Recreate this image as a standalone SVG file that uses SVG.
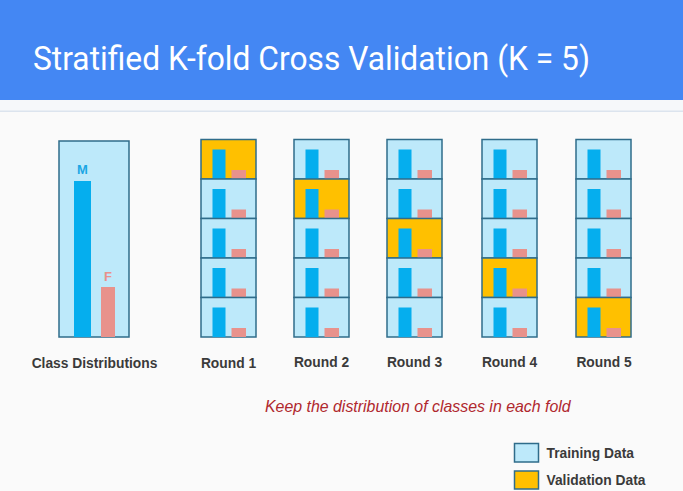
<svg xmlns="http://www.w3.org/2000/svg" width="683" height="491" viewBox="0 0 683 491">
<style>
.cell{fill:#BDE9FA;stroke:#2F6C8A;stroke-width:1.5}
.val{fill:#FFC000;stroke:#2F6C8A;stroke-width:1.5}
.m{fill:#05AEEE}
.f{fill:#E8928C}
.lbl{font-family:"Liberation Sans",Arial,sans-serif;font-weight:bold;font-size:13.8px;fill:#3A3A3A}
</style>
<defs>
<g id="bars">
<rect class="m" x="11.5" y="10" width="13" height="29.5"/>
<rect class="f" x="30.5" y="30.5" width="14.5" height="9"/>
</g>
</defs>
<rect x="0" y="0" width="683" height="491" fill="#FAFAFA"/>
<g id="header">
<rect x="0" y="0" width="683" height="100" fill="#4487F3"/>
<rect x="0" y="100" width="683" height="11" fill="#F6F8FA"/>
<rect x="0" y="110.5" width="683" height="1.5" fill="#DCE4EE"/>
<text x="33" y="70" textLength="557" lengthAdjust="spacingAndGlyphs" font-family="Roboto,'Liberation Sans',sans-serif" font-weight="400" font-size="34" fill="#FFFFFF">Stratified K-fold Cross Validation (K = 5)</text>
</g>
<g id="class-distributions">
<rect class="cell" x="59" y="141" width="70" height="196"/>
<rect class="m" x="74" y="181" width="17" height="156"/>
<rect class="f" x="101" y="287" width="14" height="50"/>
<text x="82.5" y="174" text-anchor="middle" font-family="'Liberation Sans',Arial,sans-serif" font-weight="bold" font-size="13" fill="#1AA6E4">M</text>
<text x="108" y="281" text-anchor="middle" font-family="'Liberation Sans',Arial,sans-serif" font-weight="bold" font-size="13" fill="#E8928C">F</text>
<text class="lbl" x="94.5" y="368" text-anchor="middle">Class Distributions</text>
</g>
<g id="round1">
<g transform="translate(201,139.5)">
<rect class="val" x="0" y="0" width="55" height="39.5"/><use href="#bars" y="0"/>
<rect class="cell" x="0" y="39.5" width="55" height="39.5"/><use href="#bars" y="39.5"/>
<rect class="cell" x="0" y="79" width="55" height="39.5"/><use href="#bars" y="79"/>
<rect class="cell" x="0" y="118.5" width="55" height="39.5"/><use href="#bars" y="118.5"/>
<rect class="cell" x="0" y="158" width="55" height="39.5"/><use href="#bars" y="158"/>
</g>
<text class="lbl" x="228.5" y="368" text-anchor="middle">Round 1</text>
</g>
<g id="round2">
<g transform="translate(294,139.5)">
<rect class="cell" x="0" y="0" width="55" height="39.5"/><use href="#bars" y="0"/>
<rect class="val" x="0" y="39.5" width="55" height="39.5"/><use href="#bars" y="39.5"/>
<rect class="cell" x="0" y="79" width="55" height="39.5"/><use href="#bars" y="79"/>
<rect class="cell" x="0" y="118.5" width="55" height="39.5"/><use href="#bars" y="118.5"/>
<rect class="cell" x="0" y="158" width="55" height="39.5"/><use href="#bars" y="158"/>
</g>
<text class="lbl" x="321.5" y="367" text-anchor="middle">Round 2</text>
</g>
<g id="round3">
<g transform="translate(387,139.5)">
<rect class="cell" x="0" y="0" width="55" height="39.5"/><use href="#bars" y="0"/>
<rect class="cell" x="0" y="39.5" width="55" height="39.5"/><use href="#bars" y="39.5"/>
<rect class="val" x="0" y="79" width="55" height="39.5"/><use href="#bars" y="79"/>
<rect class="cell" x="0" y="118.5" width="55" height="39.5"/><use href="#bars" y="118.5"/>
<rect class="cell" x="0" y="158" width="55" height="39.5"/><use href="#bars" y="158"/>
</g>
<text class="lbl" x="414.5" y="367" text-anchor="middle">Round 3</text>
</g>
<g id="round4">
<g transform="translate(482,139.5)">
<rect class="cell" x="0" y="0" width="55" height="39.5"/><use href="#bars" y="0"/>
<rect class="cell" x="0" y="39.5" width="55" height="39.5"/><use href="#bars" y="39.5"/>
<rect class="cell" x="0" y="79" width="55" height="39.5"/><use href="#bars" y="79"/>
<rect class="val" x="0" y="118.5" width="55" height="39.5"/><use href="#bars" y="118.5"/>
<rect class="cell" x="0" y="158" width="55" height="39.5"/><use href="#bars" y="158"/>
</g>
<text class="lbl" x="509.5" y="367" text-anchor="middle">Round 4</text>
</g>
<g id="round5">
<g transform="translate(576,139.5)">
<rect class="cell" x="0" y="0" width="55" height="39.5"/><use href="#bars" y="0"/>
<rect class="cell" x="0" y="39.5" width="55" height="39.5"/><use href="#bars" y="39.5"/>
<rect class="cell" x="0" y="79" width="55" height="39.5"/><use href="#bars" y="79"/>
<rect class="cell" x="0" y="118.5" width="55" height="39.5"/><use href="#bars" y="118.5"/>
<rect class="val" x="0" y="158" width="55" height="39.5"/><use href="#bars" y="158"/>
</g>
<text class="lbl" x="604" y="367" text-anchor="middle">Round 5</text>
</g>
<g id="note">
<text x="265" y="411.5" font-family="'Liberation Sans',Arial,sans-serif" font-style="italic" font-size="15.9" fill="#B0282E">Keep the distribution of classes in each fold</text>
</g>
<g id="legend">
<rect class="cell" x="514.5" y="443.5" width="24" height="18.5"/>
<text class="lbl" x="546.5" y="457.5">Training Data</text>
<rect class="val" x="514.5" y="471" width="24" height="18"/>
<text class="lbl" x="546.5" y="484.5">Validation Data</text>
</g>
</svg>
